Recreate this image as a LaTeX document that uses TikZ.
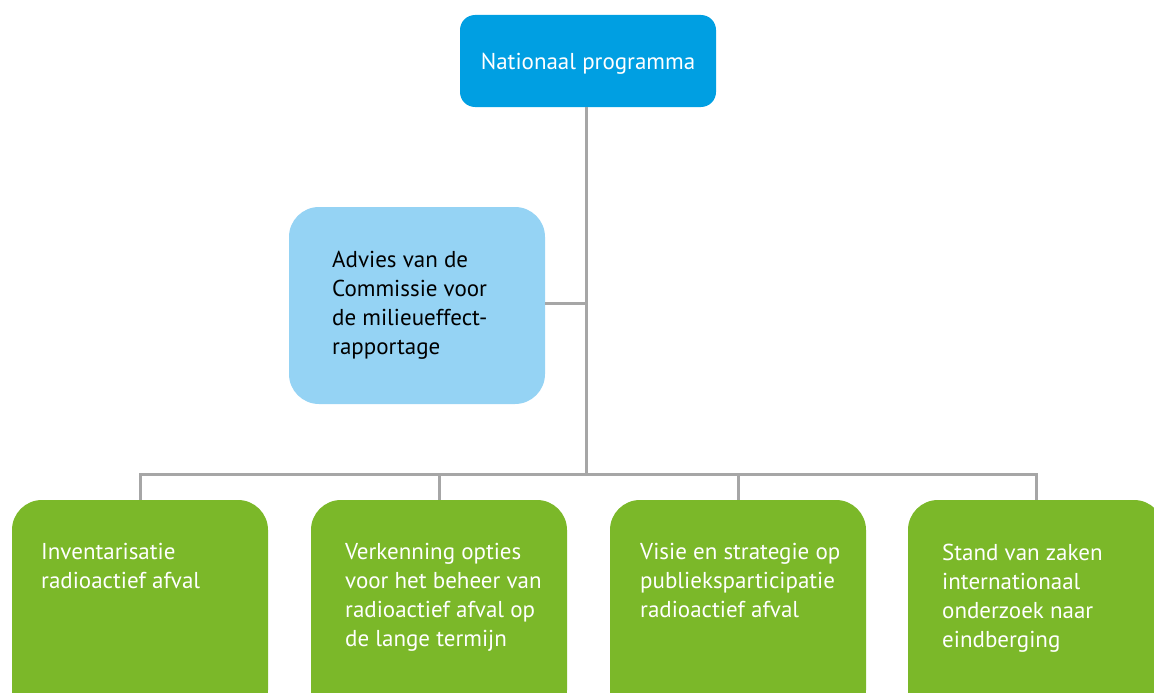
\documentclass[tikz,border=0pt]{standalone}
\usepackage{fontspec}
\setmainfont{PT Sans}
\definecolor{topblue}{HTML}{009FE2}
\definecolor{lightblue}{HTML}{95D3F4}
\definecolor{leafgreen}{HTML}{7BB829}
\definecolor{linegray}{HTML}{A6A6A6}
\tikzset{
  box/.style={draw=none, inner sep=0pt, minimum width=256pt},
  topbox/.style={box, fill=topblue, rounded corners=15pt, minimum height=92pt},
  advbox/.style={box, fill=lightblue, rounded corners=30pt, minimum height=197pt},
  leafbox/.style={box, fill=leafgreen, rounded corners=30pt, minimum height=220pt},
  txt/.style={inner sep=0pt, align=left, anchor=north west, font=\fontsize{23}{29}\selectfont},
  conn/.style={draw=linegray, line width=3pt}
}
\begin{document}
\begin{tikzpicture}[x=1pt, y=-1pt]
\useasboundingbox (0,0) rectangle (1154,693);
% boxes
\node[topbox] (top) at (588,61) {};
\node[advbox] (adv) at (417,305.5) {};
\node[leafbox] (b1) at (140,610) {};
\node[leafbox] (b2) at (439,610) {};
\node[leafbox] (b3) at (738,610) {};
\node[leafbox] (b4) at (1036,610) {};
% connectors
\coordinate (bus) at (586,474);
\coordinate (join) at (586,303);
\draw[conn] (top.south -| bus) -- (bus);
\draw[conn] (adv.east |- join) -- (join);
\draw[conn] (b1.north) |- (b4.north |- bus) -- (b4.north);
\draw[conn] (b2.north) -- (b2.north |- bus);
\draw[conn] (b3.north) -- (b3.north |- bus);
% texts
\node[inner sep=0pt, anchor=base, text=white, font=\fontsize{23}{29}\selectfont] (ttop) at (588,70) {Nationaal programma};
\node[txt, text=black] (tadv) at (332,250.5) {Advies van de\\Commissie voor\\de milieueffect-\\rapportage};
\node[txt, text=white] (t1) at (41,543.5) {Inventarisatie\\radioactief afval};
\node[txt, text=white] (t2) at (345,543.5) {Verkenning opties\\voor het beheer van\\radioactief afval op\\de lange termijn};
\node[txt, text=white] (t3) at (640,543.5) {Visie en strategie op\\publieksparticipatie\\radioactief afval};
\node[txt, text=white] (t4) at (942,543.5) {Stand van zaken\\internationaal\\onderzoek naar\\eindberging};
\end{tikzpicture}
\end{document}
